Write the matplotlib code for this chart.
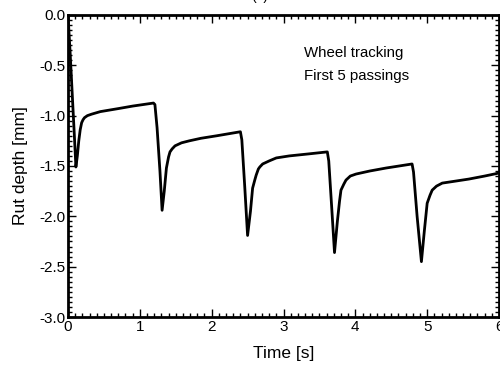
import matplotlib
matplotlib.use('Agg')
import matplotlib.pyplot as plt
from matplotlib.ticker import MultipleLocator, FormatStrFormatter

plt.rcParams['font.family'] = ['Liberation Sans', 'DejaVu Sans']

# rut depth vs time
time_s = [0.00, 0.03, 0.06, 0.09, 0.11, 0.13, 0.15, 0.17, 0.19, 0.21, 0.23, 0.27,
          0.33, 0.45, 0.70, 0.90, 1.19, 1.21, 1.24, 1.28, 1.31, 1.34, 1.37, 1.40,
          1.42, 1.45, 1.49, 1.58, 1.69, 1.85, 2.07, 2.40, 2.42, 2.46, 2.50, 2.54,
          2.57, 2.60, 2.62, 2.65, 2.67, 2.71, 2.80, 2.90, 3.08, 3.35, 3.61, 3.63,
          3.67, 3.71, 3.75, 3.78, 3.80, 3.84, 3.87, 3.90, 3.93, 4.01, 4.20, 4.43,
          4.79, 4.81, 4.86, 4.92, 4.96, 5.00, 5.04, 5.07, 5.10, 5.13, 5.21, 5.35,
          5.58, 5.80, 6.00]
rut_mm = [0.00, -0.38, -0.80, -1.22, -1.51, -1.40, -1.25, -1.14, -1.07, -1.04, -1.02, -1.00,
          -0.985, -0.96, -0.93, -0.905, -0.875, -0.89, -1.12, -1.55, -1.94, -1.75, -1.52, -1.41,
          -1.36, -1.33, -1.30, -1.27, -1.25, -1.225, -1.20, -1.16, -1.24, -1.70, -2.19, -1.95,
          -1.72, -1.64, -1.59, -1.53, -1.51, -1.48, -1.45, -1.42, -1.40, -1.38, -1.36, -1.45,
          -1.90, -2.36, -2.05, -1.85, -1.74, -1.68, -1.64, -1.62, -1.60, -1.58, -1.55, -1.52,
          -1.48, -1.56, -2.00, -2.45, -2.15, -1.87, -1.79, -1.74, -1.72, -1.70, -1.67, -1.655,
          -1.63, -1.60, -1.57]

fig = plt.figure(figsize=(5.0, 3.65), dpi=100)
ax = fig.add_axes([0.136, 0.1315, 0.862, 0.8275])

ax.plot(time_s, rut_mm, color='black', linewidth=2.0, solid_joinstyle='round')

ax.set_xlim(0, 6)
ax.set_ylim(-3.0, 0.0)
ax.xaxis.set_major_locator(MultipleLocator(1))
ax.xaxis.set_minor_locator(MultipleLocator(0.1))
ax.yaxis.set_major_locator(MultipleLocator(0.5))
ax.yaxis.set_minor_locator(MultipleLocator(0.05))
ax.yaxis.set_major_formatter(FormatStrFormatter('%.1f'))
ax.tick_params(which='both', direction='in', top=True, right=True, labelsize=11,
               width=1.0, pad=2)
ax.tick_params(which='major', length=6)
ax.tick_params(which='minor', length=3)
for sp in ax.spines.values():
    sp.set_linewidth(2.0)

ax.set_xlabel('Time [s]', fontsize=12.5, labelpad=9)
ax.set_ylabel('Rut depth [mm]', fontsize=12.5, labelpad=8)

ax.text(3.29, -0.38, 'Wheel tracking', fontsize=10.8, va='center', ha='left')
ax.text(3.29, -0.61, 'First 5 passings', fontsize=10.8, va='center', ha='left')

# panel label, mostly cut off at the top edge
fig.text(0.52, 1.0, '(b)', ha='center', va='baseline', fontsize=10)

fig.savefig('out.png', dpi=100)
